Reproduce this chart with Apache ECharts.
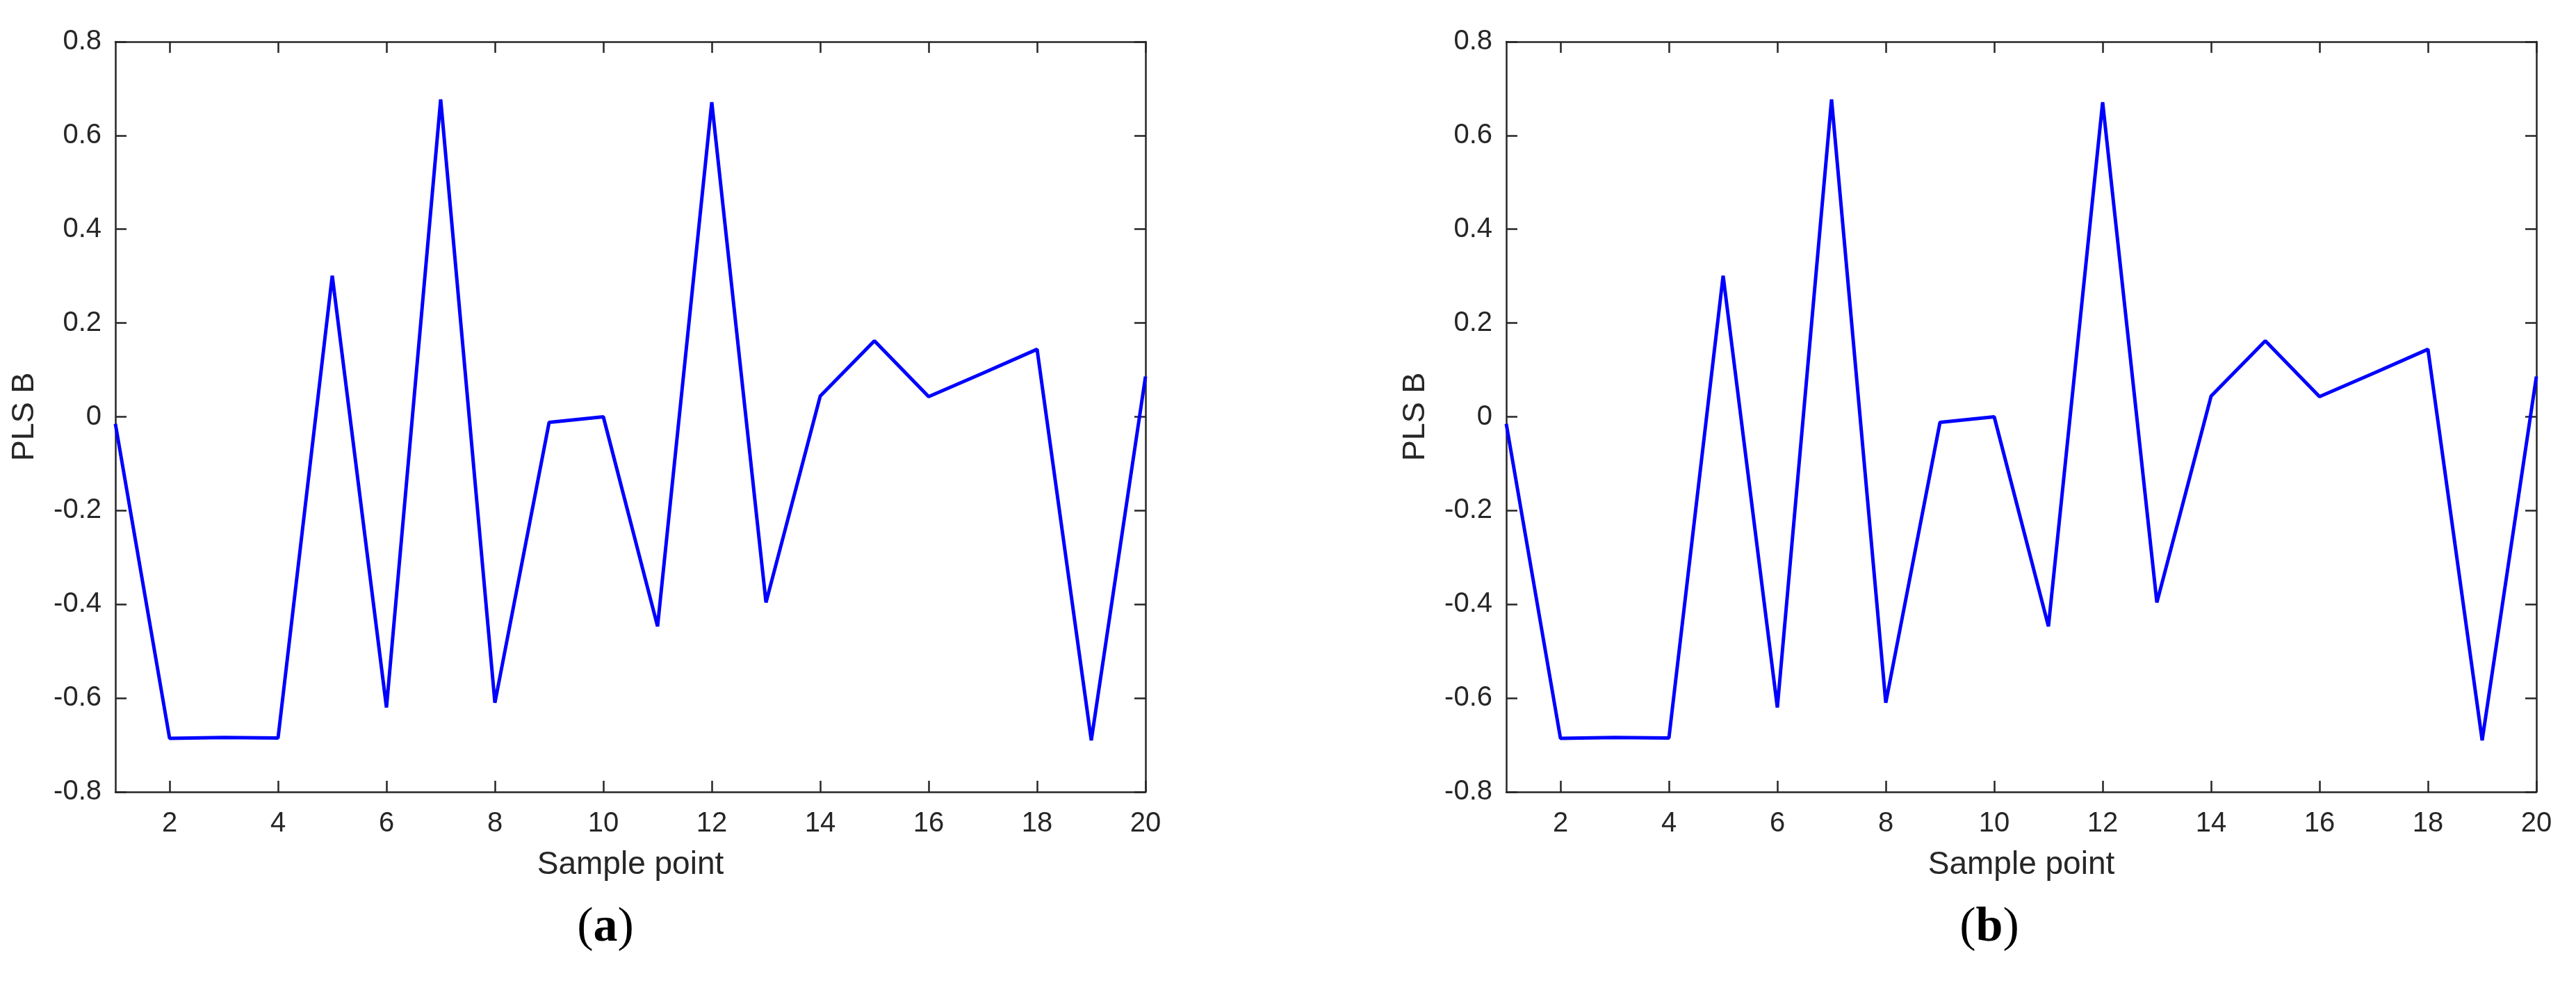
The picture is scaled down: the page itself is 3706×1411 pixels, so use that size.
<!DOCTYPE html>
<html>
<head>
<meta charset="utf-8">
<title>PLS B</title>
<script src="https://cdn.jsdelivr.net/npm/echarts@6/dist/echarts.min.js"></script>
<style>
    html, body {
        margin: 0;
        padding: 0;
        background: #fff;
    }
    #main {
        width: 3706px;
        height: 1411px;
    }
</style>
</head>
<body>
<div id="main"></div>
<script>
// sample points 1..20
const samples = [1, 2, 3, 4, 5, 6, 7, 8, 9, 10, 11, 12, 13, 14, 15, 16, 17, 18, 19, 20]
// PLS B of panel (a)
const plsA = [-0.015, -0.686, -0.684, -0.685, 0.301, -0.62, 0.677, -0.61, -0.012, 0.0,
    -0.447, 0.671, -0.396, 0.044, 0.162, 0.043, 0.093, 0.144, -0.69, 0.086]
// PLS B of panel (b)
const plsB = [-0.015, -0.686, -0.684, -0.685, 0.301, -0.62, 0.677, -0.61, -0.012, 0.0,
    -0.447, 0.671, -0.396, 0.044, 0.162, 0.043, 0.093, 0.144, -0.69, 0.086]
// tick labels
const xTicks = [2, 4, 6, 8, 10, 12, 14, 16, 18, 20]
const panelLabels = ['a', 'b']

const axisColor = '#262626'
const tickFont = 'Liberation Sans, Arial, sans-serif'
const serifFont = 'Liberation Serif, Times New Roman, serif'

var myChart = echarts.init(document.getElementById('main'), null, { renderer: 'canvas' })

// two panels side by side
const grids = [
    { left: 166, top: 60, width: 1482, height: 1079 },
    { left: 2167, top: 60, width: 1482, height: 1079 }
]
const titleCenters = [871, 2862]

let xAxes = []
let yAxes = []
let series = []
let titles = []

grids.forEach((g, i) => {
    // bottom axis with labels
    xAxes.push({
        gridIndex: i,
        type: 'value',
        min: 1,
        max: 20,
        position: 'bottom',
        name: 'Sample point',
        nameLocation: 'middle',
        nameGap: 82,
        nameTextStyle: { color: axisColor, fontSize: 46, fontFamily: tickFont },
        axisLine: { show: true, onZero: false, lineStyle: { color: axisColor, width: 2.5 } },
        axisTick: { show: true, inside: true, length: 16, customValues: xTicks, lineStyle: { color: axisColor, width: 2.5 } },
        axisLabel: { show: true, customValues: xTicks, margin: 26, color: axisColor, fontSize: 40, fontFamily: tickFont },
        splitLine: { show: false }
    })
    // top mirror axis
    xAxes.push({
        gridIndex: i,
        type: 'value',
        min: 1,
        max: 20,
        position: 'top',
        axisLine: { show: true, onZero: false, lineStyle: { color: axisColor, width: 2.5 } },
        axisTick: { show: true, inside: true, length: 16, customValues: xTicks, lineStyle: { color: axisColor, width: 2.5 } },
        axisLabel: { show: false },
        splitLine: { show: false }
    })
    // left axis with labels
    yAxes.push({
        gridIndex: i,
        type: 'value',
        min: -0.8,
        max: 0.8,
        interval: 0.2,
        position: 'left',
        name: 'PLS B',
        nameLocation: 'middle',
        nameGap: 108,
        nameTextStyle: { color: axisColor, fontSize: 45, fontFamily: tickFont },
        axisLine: { show: true, onZero: false, lineStyle: { color: axisColor, width: 2.5 } },
        axisTick: { show: true, inside: true, length: 16, lineStyle: { color: axisColor, width: 2.5 } },
        axisLabel: {
            show: true,
            margin: 20,
            color: axisColor,
            fontSize: 40,
            fontFamily: tickFont,
            formatter: v => String(Math.round(v * 10) / 10)
        },
        splitLine: { show: false }
    })
    // right mirror axis
    yAxes.push({
        gridIndex: i,
        type: 'value',
        min: -0.8,
        max: 0.8,
        interval: 0.2,
        position: 'right',
        axisLine: { show: true, onZero: false, lineStyle: { color: axisColor, width: 2.5 } },
        axisTick: { show: true, inside: true, length: 16, lineStyle: { color: axisColor, width: 2.5 } },
        axisLabel: { show: false },
        splitLine: { show: false }
    })

    const values = i === 0 ? plsA : plsB
    series.push({
        name: 'PLS B ' + panelLabels[i],
        type: 'line',
        xAxisIndex: i * 2,
        yAxisIndex: i * 2,
        data: samples.map((s, k) => [s, values[k]]),
        showSymbol: false,
        symbol: 'none',
        silent: true,
        animation: false,
        lineStyle: { color: '#0000ff', width: 5, join: 'bevel' }
    })

    // panel caption: normal parentheses, bold letter
    titles.push({
        text: '{p|(}{b|' + panelLabels[i] + '}{p|)}',
        left: titleCenters[i],
        top: 1300,
        padding: 0,
        textAlign: 'center',
        textStyle: {
            fontWeight: 'normal',
            fontFamily: serifFont,
            fontSize: 70,
            rich: {
                p: { fontFamily: serifFont, fontSize: 70, fontWeight: 'normal', color: '#000' },
                b: { fontFamily: serifFont, fontSize: 70, fontWeight: 'bold', color: '#000' }
            }
        }
    })
})

let option = {
    backgroundColor: '#fff',
    animation: false,
    title: titles,
    grid: grids,
    xAxis: xAxes,
    yAxis: yAxes,
    series: series
}
myChart.setOption(option)
</script>
</body>
</html>
